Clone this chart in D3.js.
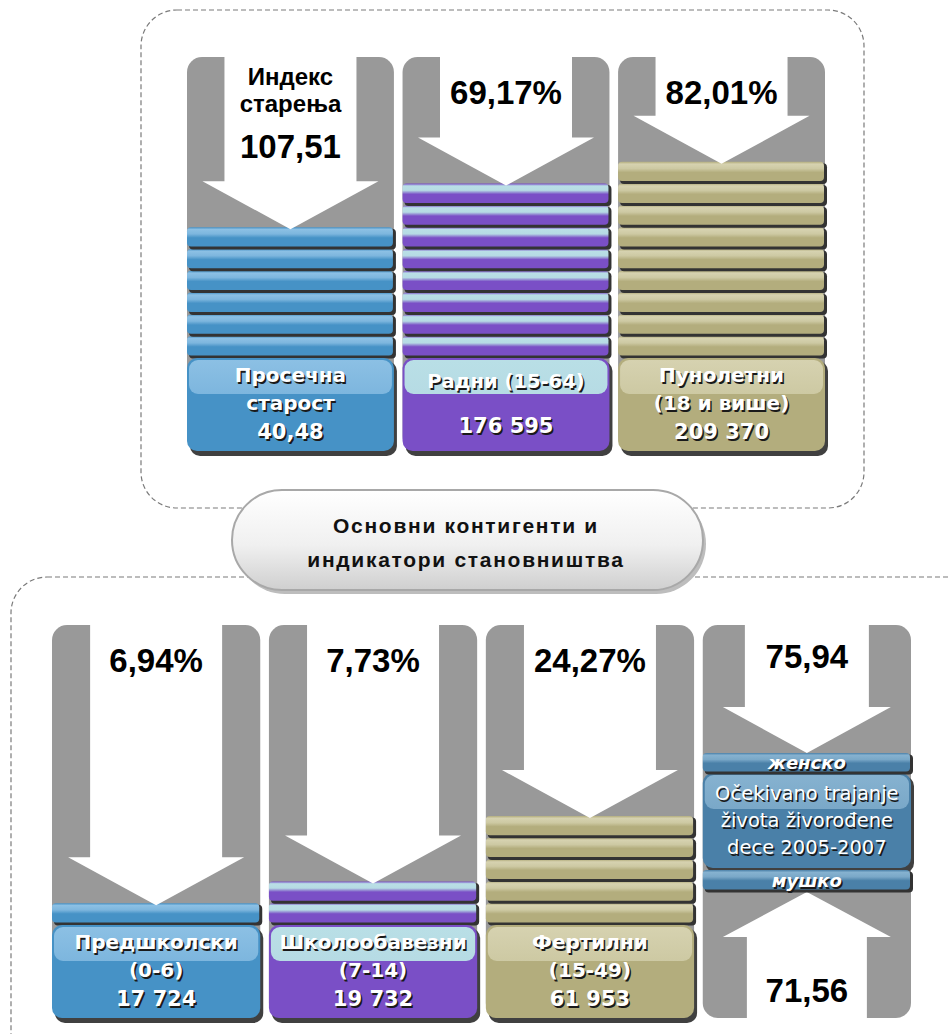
<!DOCTYPE html>
<html><head><meta charset="utf-8">
<script src="https://cdn.jsdelivr.net/npm/d3@7"></script>
<style>html,body{margin:0;padding:0;background:#fff}svg{display:block}</style>
</head><body>
<script>
// ---------- DATA ----------
const columnNames = ["Просечна старост","Радни (15-64)","Пунолетни (18 и више)","Предшколски (0-6)","Школообавезни (7-14)","Фертилни (15-49)"];
const labelLines = [["Просечна","старост"],["Радни (15-64)"],["Пунолетни","(18 и више)"],["Предшколски","(0-6)"],["Школообавезни","(7-14)"],["Фертилни","(15-49)"]];
const countValues = ["40,48","176 595","209 370","17 724","19 732","61 953"];
const arrowTitles = [["Индекс","старења"],[],[],[],[],[]];
const arrowValues = ["107,51","69,17%","82,01%","6,94%","7,73%","24,27%"];
const stripeCounts = [6,8,9,1,2,5];
const rowOf = [0,0,0,1,1,1];
const slotOf = [0,1,2,0,1,2];
const lifeTitle = ["Očekivano trajanje","života živorođene","dece 2005-2007"];
const lifeSexes = ["женско","мушко"];
const lifeValues = ["75,94","71,56"];
const titleLines = ["Основни контигенти и","индикатори становништва"];

// ---------- STYLE ----------
const W = 948, H = 1034;
const themes = {
  blue:   {fill:"#4692c6", hi:"#7db6de", top:"#8cc0e4"},
  purple: {fill:"#7a4fc6", hi:"#b6dbe4", top:"#b9dfe6"},
  olive:  {fill:"#b3ad7d", hi:"#cdc9a3", top:"#d6d2b0"},
  steel:  {fill:"#4a80a8", hi:"#7aa8c8", top:"#86b2d0"}
};
const themeFor = d3.scaleOrdinal().domain(columnNames)
  .range(["blue","purple","olive","blue","purple","olive"]);
const gray = "#999999";

const svg = d3.select("body").append("svg").attr("width", W).attr("height", H)
  .style("font-family","'Liberation Sans', Arial, sans-serif");

const defs = svg.append("defs");
Object.entries(themes).forEach(([k, t]) => {
  const sg = defs.append("linearGradient").attr("id","st-"+k).attr("x1",0).attr("y1",0).attr("x2",0).attr("y2",1);
  sg.append("stop").attr("offset","0%").attr("stop-color", t.fill);
  sg.append("stop").attr("offset","12%").attr("stop-color", t.top);
  sg.append("stop").attr("offset","35%").attr("stop-color", t.hi);
  sg.append("stop").attr("offset","55%").attr("stop-color", t.fill);
  sg.append("stop").attr("offset","100%").attr("stop-color", t.fill);
  const gl = defs.append("linearGradient").attr("id","gl-"+k).attr("x1",0).attr("y1",0).attr("x2",0).attr("y2",1);
  gl.append("stop").attr("offset","0%").attr("stop-color", t.top);
  gl.append("stop").attr("offset","100%").attr("stop-color", t.hi);
});
const bg = defs.append("linearGradient").attr("id","bub").attr("x1",0).attr("y1",0).attr("x2",0).attr("y2",1);
bg.append("stop").attr("offset","0%").attr("stop-color","#ffffff");
bg.append("stop").attr("offset","55%").attr("stop-color","#f0f0f0");
bg.append("stop").attr("offset","100%").attr("stop-color","#cfcfcf");

// row geometry
const rows = [
  {x: d3.scaleBand().domain([0,1,2]).range([187,825]).paddingInner(0.04), top: 57, labelTop: 358, bottom: 451},
  {x: d3.scaleBand().domain([0,1,2,3]).range([52,911]).paddingInner(0.04), top: 625, labelTop: 925, bottom: 1018}
];
rows.forEach(r => { r.y = d3.scaleLinear().domain([0, 9]).range([r.labelTop, r.labelTop - 9*21.8]); });

// dashed boxes
svg.append("rect").attr("x",141).attr("y",10).attr("width",723).attr("height",498).attr("rx",36)
  .attr("fill","none").attr("stroke","#7a7a7a").attr("stroke-width",1.2).attr("stroke-dasharray","5,3");
svg.append("rect").attr("x",11).attr("y",577).attr("width",980).attr("height",520).attr("rx",36)
  .attr("fill","none").attr("stroke","#7a7a7a").attr("stroke-width",1.2).attr("stroke-dasharray","5,3");

function arrowPath(cx, y0, yHead, yTip, sw, hw) {
  const p = d3.path();
  p.moveTo(cx - sw, y0); p.lineTo(cx + sw, y0); p.lineTo(cx + sw, yHead);
  p.lineTo(cx + hw, yHead); p.lineTo(cx, yTip); p.lineTo(cx - hw, yHead);
  p.lineTo(cx - sw, yHead); p.closePath();
  return p.toString();
}
function shadowText(g, x, y, txt, size, opts = {}) {
  const fam = opts.family || "'DejaVu Sans', sans-serif";
  const weight = opts.weight || "bold";
  const style = opts.style || "normal";
  [[1.5,1.5,"#1a1a1a"],[0,0,"#ffffff"]].forEach(([dx,dy,c]) => {
    g.append("text").attr("x", x + dx).attr("y", y + dy).attr("text-anchor","middle")
      .attr("font-family", fam).attr("font-weight", weight).attr("font-style", style)
      .attr("font-size", size).attr("fill", c).text(txt);
  });
}
function stripe(g, x, y, w, h, key) {
  g.append("rect").attr("x", x + 2).attr("y", y + 1.5).attr("width", w).attr("height", h - 1)
    .attr("rx", 4).attr("fill", "#333");
  g.append("rect").attr("x", x).attr("y", y).attr("width", w - 1).attr("height", h - 2.5)
    .attr("rx", 4).attr("fill", "url(#st-" + key + ")");
}
function labelBox(g, x, y, w, h, key) {
  const t = themes[key];
  g.append("rect").attr("x", x + 3).attr("y", y + 3).attr("width", w).attr("height", h + 2)
    .attr("rx", 10).attr("fill", "#404040");
  g.append("rect").attr("x", x).attr("y", y).attr("width", w).attr("height", h)
    .attr("rx", 10).attr("fill", t.fill);
  g.append("rect").attr("x", x + 2).attr("y", y + 2).attr("width", w - 4).attr("height", 34)
    .attr("rx", 9).attr("fill", "url(#gl-" + key + ")");
}
function blackText(g, x, y, txt, size) {
  g.append("text").attr("x", x).attr("y", y).attr("text-anchor","middle")
    .attr("font-weight","bold").attr("font-size", size).attr("fill","#000").text(txt);
}

// ---------- COLUMNS ----------
columnNames.forEach((name, i) => {
  const r = rows[rowOf[i]];
  const x = r.x(slotOf[i]), w = r.x.bandwidth(), cx = x + w / 2;
  const g = svg.append("g");
  const key = themeFor(name);
  g.append("rect").attr("x", x).attr("y", r.top).attr("width", w).attr("height", r.bottom - r.top)
    .attr("rx", 15).attr("fill", gray);
  const n = stripeCounts[i];
  d3.range(n).forEach(k => {
    const y1 = r.y(k + 1), y0 = r.y(k);
    stripe(g, x, y1, w, y0 - y1, key);
  });
  const tip = r.y(n) + 2;
  g.append("path").attr("d", arrowPath(cx, r.top, tip - 48, tip, 66, 88)).attr("fill", "#fff");
  labelBox(g, x, r.labelTop, w, r.bottom - r.labelTop, key);
  const lines = labelLines[i];
  if (lines.length === 1) {
    shadowText(g, cx, r.labelTop + 30, lines[0], 19.5);
    shadowText(g, cx, r.labelTop + 75, countValues[i], 21);
  } else {
    shadowText(g, cx, r.labelTop + 24, lines[0], 20);
    shadowText(g, cx, r.labelTop + 52, lines[1], 20);
    shadowText(g, cx, r.labelTop + 81, countValues[i], 21);
  }
  const t = arrowTitles[i];
  if (t.length) {
    blackText(g, cx, r.top + 28, t[0], 24);
    blackText(g, cx, r.top + 55, t[1], 24);
    blackText(g, cx, r.top + 101, arrowValues[i], 33);
  } else {
    blackText(g, cx, r.top + 47, arrowValues[i], 33);
  }
});

// ---------- LIFE EXPECTANCY COLUMN ----------
{
  const r = rows[1];
  const x = r.x(3), w = r.x.bandwidth(), cx = x + w / 2;
  const g = svg.append("g");
  g.append("rect").attr("x", x).attr("y", r.top).attr("width", w).attr("height", r.bottom - r.top)
    .attr("rx", 15).attr("fill", gray);
  const fY = 753, mY = 870;
  g.append("path").attr("d", arrowPath(cx, r.top, fY - 46, fY, 62, 84)).attr("fill", "#fff");
  g.append("path").attr("d", arrowPath(cx, r.bottom, 937, 892, 60, 84)).attr("fill", "#fff");
  labelBox(g, x, fY + 20, w, mY - fY - 22, "steel");
  stripe(g, x, fY, w, 21, "steel");
  stripe(g, x, mY, w, 22, "steel");
  shadowText(g, cx, fY + 16, lifeSexes[0], 18, {style: "italic"});
  shadowText(g, cx, mY + 17, lifeSexes[1], 18, {style: "italic"});
  lifeTitle.forEach((l, k) => shadowText(g, cx, fY + 47 + k * 27, l, 19.5, {weight: "normal"}));
  blackText(g, cx, r.top + 43, lifeValues[0], 33);
  blackText(g, cx, 1002, lifeValues[1], 33);
}

// ---------- TITLE BUBBLE ----------
svg.append("rect").attr("x", 235).attr("y", 494).attr("width", 471).attr("height", 100).attr("rx", 50)
  .attr("fill", "#bdbdbd");
svg.append("rect").attr("x", 232).attr("y", 490).attr("width", 471).attr("height", 100).attr("rx", 50)
  .attr("fill", "url(#bub)").attr("stroke", "#a8a8a8").attr("stroke-width", 2);
titleLines.forEach((l, k) => {
  svg.append("text").attr("x", 466).attr("y", 533 + k * 34).attr("text-anchor","middle")
    .attr("font-weight","bold").attr("font-size", 21).attr("letter-spacing", 1.7)
    .attr("fill","#111").text(l);
});
</script>
</body></html>
